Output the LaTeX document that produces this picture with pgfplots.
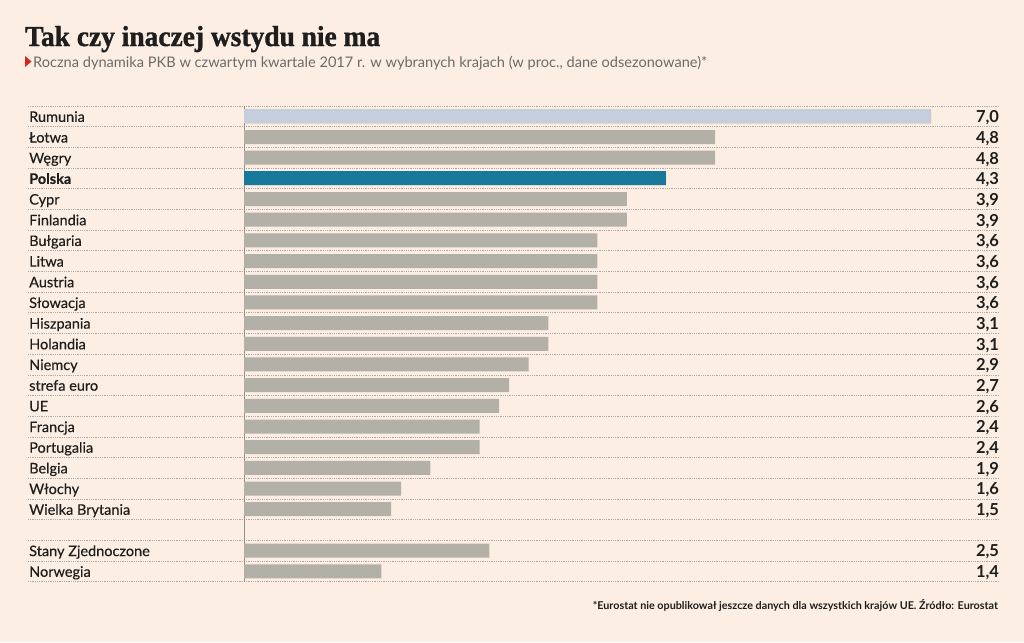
\documentclass[border=0pt]{standalone}
\usepackage{fontspec}
\setmainfont{Lato}
\newfontfamily\titlefont[BoldFeatures={FakeBold=1.2}]{Liberation Serif}
\newfontfamily\labfont[FakeBold=0.35]{Lato}
\usepackage{graphicx}
\usepackage{pgfplots}
\pgfplotsset{compat=1.18}
\usepackage{pgfplotstable}

\definecolor{bg}{HTML}{FCEEE3}
\definecolor{barg}{HTML}{B3B0A8}
\definecolor{barb}{HTML}{C5CEDD}
\definecolor{barp}{HTML}{17799C}
\definecolor{gridc}{HTML}{B0AAA3}
\definecolor{subc}{HTML}{6B6B6B}
\definecolor{tri}{HTML}{D9261C}
\definecolor{txt}{HTML}{1E1E1E}

% y = row index (top to bottom), v = value
\pgfplotstableread{
y v
0 7.0
1 4.8
2 4.8
3 4.3
4 3.9
5 3.9
6 3.6
7 3.6
8 3.6
9 3.6
10 3.1
11 3.1
12 2.9
13 2.7
14 2.6
15 2.4
16 2.4
17 1.9
18 1.6
19 1.5
21 2.5
22 1.4
}\gdpdata

\begin{document}
\begin{tikzpicture}
\fill[bg] (0pt,0pt) rectangle (1024pt,-642pt);
\node[anchor=base west, inner sep=0, text=txt] at (25pt,-46pt)
  {\resizebox{355pt}{20pt}{\titlefont\bfseries Tak czy inaczej wstydu nie ma}};
\fill[tri] (25pt,-56pt) -- (31.5pt,-61.5pt) -- (25pt,-67pt) -- cycle;
\node[anchor=base west, inner sep=0, text=subc] at (33pt,-67pt)
  {\resizebox{674pt}{!}{\fontsize{14}{14}\selectfont Roczna dynamika PKB w czwartym kwartale 2017 r. w wybranych krajach (w proc., dane odsezonowane)*}};
\node[anchor=base east, inner sep=0, text=txt] at (998pt,-609pt)
  {\resizebox{405pt}{!}{\fontsize{10}{10}\selectfont\bfseries *Eurostat nie opublikował jeszcze danych dla wszystkich krajów UE. Źródło: Eurostat}};

\begin{axis}[
  at={(28pt,-106pt)}, anchor=north west,
  width=972pt, height=475.6pt, scale only axis,
  xmin=-2.201, xmax=7.703,
  ymin=-0.5, ymax=22.5, y dir=reverse,
  enlargelimits=false,
  axis line style={draw=none},
  major tick length=0pt, minor tick length=0pt,
  xtick=\empty,
  extra x ticks={0}, extra x tick labels={},
  extra x tick style={grid=major, major grid style={draw=gridc!85!black, line width=0.8pt}},
  ytick={0,...,22},
  yticklabels={Rumunia, Łotwa, Węgry, \textbf{Polska}, Cypr, Finlandia, Bułgaria, Litwa, Austria, Słowacja, Hiszpania, Holandia, Niemcy, strefa euro, UE, Francja, Portugalia, Belgia, Włochy, Wielka Brytania, {}, Stany Zjednoczone, Norwegia},
  yticklabel style={anchor=base west, inner sep=0pt, xshift=1pt, yshift=-5.5pt, text=txt, font=\labfont\fontsize{14.5}{14.5}\selectfont},
  minor ytick={-0.5,0.5,...,22.5},
  yminorgrids=true,
  minor grid style={draw=gridc, line width=0.6pt, dash pattern=on 0.6pt off 1.2pt},
  clip=false,
]
\addplot[xbar, bar width=14pt, bar shift=0pt, fill=barg, draw=none]
  table[x=v, y=y]{\gdpdata};
\addplot[xbar, bar width=14pt, bar shift=0pt, fill=barb, draw=none]
  coordinates {(7.0,0)};
\addplot[xbar, bar width=14pt, bar shift=0pt, fill=barp, draw=none]
  coordinates {(4.3,3)};
\addplot[draw=none, mark=none, point meta=explicit,
  nodes near coords={\pgfmathprintnumber[fixed, fixed zerofill, precision=1, use comma, assume math mode=true]{\pgfplotspointmeta}},
  every node near coord/.style={anchor=base east, inner sep=0pt, yshift=-6.3pt, text=txt, font=\fontsize{16.5}{16.5}\selectfont\bfseries}]
  table[x expr=7.695, y=y, meta=v]{\gdpdata};
\end{axis}
\end{tikzpicture}
\end{document}
